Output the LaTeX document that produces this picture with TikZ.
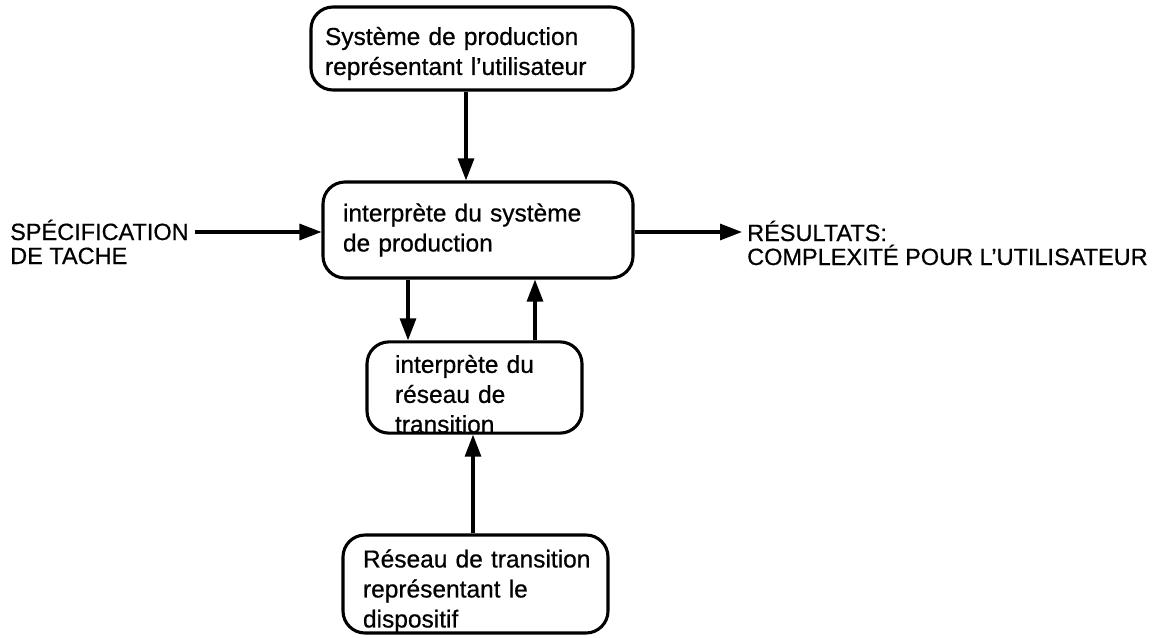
\documentclass[tikz,border=0pt]{standalone}
\usepackage{fontspec}
\setmainfont{Liberation Sans}[FakeBold=0.6]
\usetikzlibrary{arrows.meta}
\newcommand{\topstrut}[1]{\rule{0pt}{#1}}
\begin{document}
\begin{tikzpicture}[x=1pt,y=-1pt,
  box/.style={draw,line width=3.1pt,rounded corners=22pt,align=left,inner ysep=0pt,font=\fontsize{24.5}{30}\selectfont},
  arr/.style={line width=3.1pt,-{Triangle[length=22pt,width=16pt]}},
  lbl/.style={align=left,inner sep=0pt,font=\fontsize{23.5}{24}\selectfont}]
\useasboundingbox (0,0) rectangle (1174,637);
\node[box,minimum width=322pt,minimum height=83pt,text width=294pt,inner xsep=14pt] (b1) at (472,48.5) {\topstrut{28pt}Système de production\\représentant l'utilisateur};
\node[box,minimum width=310pt,minimum height=96pt,text width=270pt,inner xsep=20pt] (b2) at (478,230) {interprète du système\\de production};
\node[box,minimum width=215pt,minimum height=89pt,text width=159pt,inner xsep=28pt] (b3) at (474.5,387.5) {\topstrut{31pt}interprète du\\réseau de\\transition};
\node[box,minimum width=265pt,minimum height=98pt,text width=225pt,inner xsep=20pt] (b4) at (475.5,584) {\topstrut{32pt}\mbox{Réseau de transition}\\représentant le\\dispositif};
\node[lbl,anchor=base west] (spec) at (10,264) {SPÉCIFICATION\\DE TACHE};
\node[lbl,anchor=base west] (res) at (747,265) {RÉSULTATS:\\COMPLEXITÉ POUR L'UTILISATEUR};
\coordinate (s0) at (195,232);
\coordinate (r0) at (742,232);
\coordinate (xa) at (466,0);
\coordinate (xb) at (408,0);
\coordinate (xc) at (535,0);
\coordinate (xd) at (473,0);
\draw[arr] (s0) -- (s0 -| b2.west);
\draw[arr] (b2.east |- r0) -- (r0);
\draw[arr] (b1.south -| xa) -- (b2.north -| xa);
\draw[arr] (b2.south -| xb) -- (b3.north -| xb);
\draw[arr] (b3.north -| xc) -- (b2.south -| xc);
\draw[arr] (b4.north -| xd) -- (b3.south -| xd);
\end{tikzpicture}
\end{document}
